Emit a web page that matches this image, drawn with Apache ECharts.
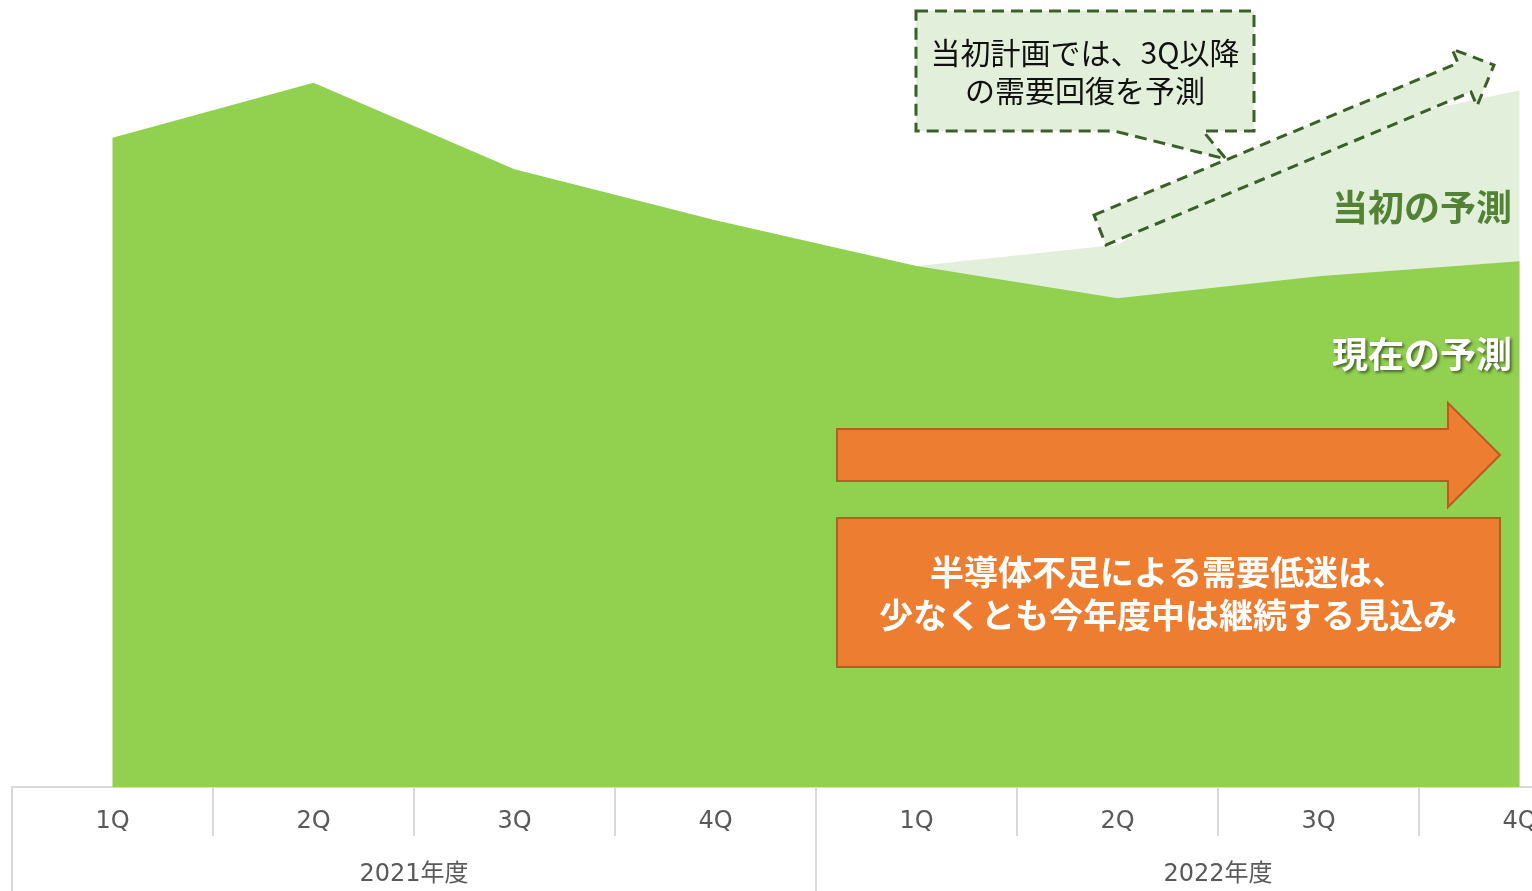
<!DOCTYPE html>
<html>
<head>
<meta charset="utf-8">
<script src="https://cdn.jsdelivr.net/npm/echarts@6/dist/echarts.min.js"></script>
<style>
html,body{margin:0;padding:0;background:#fff;}
#c{width:1532px;height:891px;}
</style>
</head>
<body>
<div id="c"></div>
<script>
// Data
const quarters = ['1Q','2Q','3Q','4Q','1Q','2Q','3Q','4Q'];
const fiscalYears = ['2021年度','2022年度'];
const currentForecast = [82.5, 89.5, 78.5, 72.0, 66.2, 62.1, 64.9, 66.8];
const originalForecast = [null, null, null, null, 66.2, 68.9, 83.2, 88.5];

const JP = "'Noto Sans CJK JP', sans-serif";
const LAT = "'DejaVu Sans', 'Noto Sans CJK JP', sans-serif";

const chart = echarts.init(document.getElementById('c'), null, {renderer:'canvas'});

const option = {
  animation: false,
  backgroundColor: '#ffffff',
  grid: { left: 12, width: 1608, top: 0, height: 787, containLabel: false, outerBoundsMode: 'none' },
  xAxis: [
    {
      type: 'category', data: quarters, position: 'bottom', boundaryGap: true,
      axisLine: { show: true, lineStyle: { color: '#d9d9d9', width: 2 } },
      axisTick: { show: true, length: 49, lineStyle: { color: '#d9d9d9', width: 2 } },
      axisLabel: { margin: 23, fontSize: 24, color: '#595959', fontFamily: LAT },
      splitLine: { show: false }
    },
    {
      type: 'category', data: fiscalYears, position: 'bottom', offset: 0, boundaryGap: true,
      axisLine: { show: false },
      axisTick: { show: true, length: 104, lineStyle: { color: '#d9d9d9', width: 2 } },
      axisLabel: { margin: 76, fontSize: 24, color: '#595959', fontFamily: LAT },
      splitLine: { show: false }
    }
  ],
  yAxis: { type: 'value', min: 0, max: 100, show: false },
  series: [
    {
      name: '当初の予測', type: 'line', data: originalForecast, xAxisIndex: 0,
      symbol: 'none', lineStyle: { width: 0 }, areaStyle: { color: '#e2efda', opacity: 1 },
      silent: true, z: 1
    },
    {
      name: '現在の予測', type: 'line', data: currentForecast, xAxisIndex: 0,
      symbol: 'none', lineStyle: { width: 0 }, areaStyle: { color: '#92d050', opacity: 1 },
      silent: true, z: 2
    }
  ],
  graphic: [
    // dashed block arrow (original plan)
    {
      type: 'polygon', z: 10, silent: true,
      shape: { points: [[1094,215],[1458,63],[1452,49],[1494,65],[1477,106],[1471,92],[1106,245]] },
      style: { fill: '#e2efda', stroke: '#3a5f28', lineWidth: 3, lineDash: [11,7] }
    },
    // callout box
    {
      type: 'polygon', z: 11, silent: true,
      shape: { points: [[916,11],[1254,11],[1254,131],[1203,131],[1226,159],[1114,131],[916,131]] },
      style: { fill: '#e2efda', stroke: '#3a5f28', lineWidth: 3, lineDash: [12,7] }
    },
    {
      type: 'text', z: 12, silent: true, x: 1085, y: 72,
      style: { text: '当初計画では、3Q以降\nの需要回復を予測', align: 'center', verticalAlign: 'middle',
        font: "30px " + JP, fill: '#111', lineHeight: 38 }
    },
    // series labels
    {
      type: 'text', z: 12, silent: true, x: 1512, y: 207,
      style: { text: '当初の予測', align: 'right', verticalAlign: 'middle',
        font: "bold 36px " + JP, fill: '#548235' }
    },
    {
      type: 'text', z: 12, silent: true, x: 1512, y: 354,
      style: { text: '現在の予測', align: 'right', verticalAlign: 'middle',
        font: "bold 36px " + JP, fill: '#ffffff',
        textShadowColor: 'rgba(0,0,0,0.5)', textShadowBlur: 3, textShadowOffsetX: 2, textShadowOffsetY: 2 }
    },
    // orange arrow
    {
      type: 'polygon', z: 10, silent: true,
      shape: { points: [[837,429],[1448,429],[1448,403],[1500,455],[1448,507],[1448,481],[837,481]] },
      style: { fill: '#ed7d31', stroke: '#b85d1f', lineWidth: 2 }
    },
    // orange box
    {
      type: 'rect', z: 10, silent: true,
      shape: { x: 837, y: 518, width: 663, height: 149 },
      style: { fill: '#ed7d31', stroke: '#b85d1f', lineWidth: 2 }
    },
    {
      type: 'text', z: 12, silent: true, x: 1168, y: 594,
      style: { text: '半導体不足による需要低迷は、\n少なくとも今年度中は継続する見込み',
        align: 'center', verticalAlign: 'middle', font: "bold 34px " + JP, fill: '#ffffff', lineHeight: 43 }
    }
  ]
};
chart.setOption(option);
</script>
</body>
</html>
